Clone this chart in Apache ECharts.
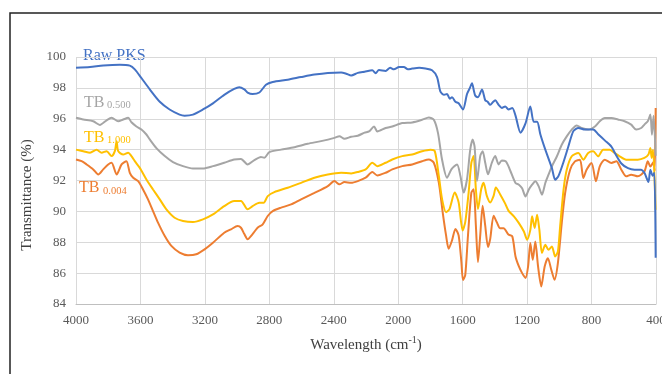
<!DOCTYPE html>
<html>
<head>
<meta charset="utf-8">
<script src="https://cdn.jsdelivr.net/npm/echarts@6/dist/echarts.min.js"></script>
<style>
  html, body { margin: 0; padding: 0; background: #fff; }
  #chart { width: 662px; height: 374px; }
</style>
</head>
<body>
<div id="chart"></div>
<script>
// wavenumber (cm-1) / transmittance (%)
const rawPKS = [[4000,99.3],[3913,99.35],[3831,99.45],[3728,99.5],[3666,99.44],[3635,99.2],[3594,98.64],[3542,97.9],[3480,97.1],[3419,96.6],[3357,96.27],[3326,96.2],[3274,96.27],[3212,96.6],[3150,97.0],[3080,97.55],[3018,97.93],[2987,98.04],[2955,97.9],[2935,97.7],[2904,97.6],[2862,97.7],[2821,98.2],[2779,98.38],[2686,98.53],[2603,98.7],[2520,98.86],[2437,98.97],[2354,99.0],[2323,98.92],[2292,98.8],[2251,98.97],[2209,99.05],[2161,99.14],[2140,98.95],[2120,99.15],[2078,99.1],[2050,99.3],[2027,99.2],[1995,99.35],[1965,99.36],[1940,99.2],[1913,99.25],[1870,99.3],[1831,99.25],[1790,99.14],[1759,98.7],[1738,97.75],[1715,97.55],[1697,97.6],[1680,97.3],[1666,97.4],[1645,97.1],[1625,97.0],[1598,96.6],[1573,97.6],[1555,98.0],[1542,98.3],[1530,97.8],[1522,97.5],[1505,97.4],[1480,97.9],[1460,97.2],[1445,97.1],[1429,96.9],[1410,97.1],[1398,97.2],[1377,96.9],[1357,96.7],[1336,96.8],[1316,96.6],[1292,96.7],[1272,96.2],[1241,95.1],[1210,95.7],[1180,96.8],[1159,95.8],[1138,95.8],[1118,95.0],[1087,94.0],[1046,92.8],[1026,92.05],[1005,92.3],[974,93.2],[944,94.2],[913,95.2],[882,95.4],[841,95.3],[790,95.3],[759,95.0],[718,94.6],[677,94.2],[656,93.8],[615,93.1],[574,92.8],[533,92.7],[492,92.7],[472,92.5],[447,91.9],[435,92.7],[421,92.3],[410,92.5],[402,87.0]];

const tb0500 = [[4000,96.06],[3955,95.95],[3893,95.84],[3852,95.6],[3810,95.9],[3779,96.06],[3738,95.84],[3707,95.95],[3676,96.06],[3656,95.77],[3625,95.5],[3594,95.3],[3563,94.98],[3542,94.66],[3501,94.1],[3449,93.58],[3398,93.19],[3336,92.93],[3274,92.78],[3212,92.78],[3150,92.93],[3080,93.15],[3018,93.36],[2976,93.4],[2935,93.04],[2893,93.32],[2852,93.53],[2831,93.47],[2800,93.84],[2727,94.0],[2645,94.16],[2562,94.38],[2479,94.55],[2396,94.76],[2365,94.87],[2334,94.7],[2292,94.83],[2251,94.9],[2209,95.1],[2181,95.18],[2150,95.5],[2130,95.18],[2078,95.4],[2037,95.5],[1975,95.72],[1913,95.76],[1852,95.93],[1810,96.08],[1779,95.93],[1753,95.07],[1728,93.36],[1697,92.18],[1670,92.72],[1635,93.04],[1614,92.29],[1594,91.22],[1573,92.08],[1553,94.0],[1538,94.65],[1526,94.2],[1511,91.97],[1491,93.58],[1476,93.9],[1460,93.15],[1443,92.4],[1419,93.15],[1398,93.58],[1377,93.04],[1357,93.3],[1333,93.24],[1316,92.93],[1303,92.6],[1272,91.84],[1251,91.73],[1231,91.5],[1210,90.97],[1190,91.4],[1169,91.73],[1149,91.95],[1128,91.62],[1108,91.08],[1087,91.84],[1067,92.38],[1046,92.92],[1015,93.57],[985,94.32],[954,94.86],[923,95.3],[892,95.56],[862,95.4],[821,95.3],[779,95.5],[749,95.84],[718,96.05],[677,96.05],[636,95.95],[595,95.84],[554,95.62],[523,95.3],[492,95.4],[472,95.62],[451,95.84],[435,96.27],[425,94.97],[415,96.2],[402,93.6]];

const tb1000 = [[4000,94.0],[3955,93.9],[3913,93.8],[3872,94.0],[3841,93.8],[3810,93.9],[3779,93.58],[3759,93.9],[3748,94.55],[3738,93.9],[3707,93.68],[3676,93.8],[3656,93.58],[3635,93.25],[3604,92.82],[3563,92.07],[3522,91.42],[3480,90.78],[3439,90.13],[3388,89.59],[3336,89.38],[3274,89.31],[3212,89.48],[3150,89.8],[3080,90.34],[3018,90.67],[2976,90.67],[2935,90.13],[2904,90.34],[2862,90.56],[2835,90.56],[2810,90.99],[2769,91.25],[2686,91.53],[2603,91.85],[2520,92.18],[2437,92.39],[2354,92.5],[2292,92.46],[2251,92.55],[2202,92.72],[2161,93.15],[2130,92.93],[2078,93.15],[2037,93.36],[1975,93.58],[1913,93.68],[1852,93.9],[1800,94.0],[1773,93.9],[1748,92.29],[1728,90.8],[1703,89.94],[1682,90.15],[1649,91.22],[1625,90.58],[1600,88.76],[1584,89.3],[1563,91.22],[1546,93.15],[1532,93.58],[1518,91.43],[1505,90.15],[1485,91.43],[1470,91.86],[1450,91.0],[1429,90.58],[1408,91.0],[1394,91.54],[1367,91.1],[1336,90.5],[1316,90.05],[1282,89.68],[1251,89.24],[1220,88.7],[1200,88.16],[1180,88.8],[1169,89.68],[1153,88.92],[1138,89.78],[1124,88.81],[1108,87.3],[1087,87.84],[1067,87.51],[1046,87.73],[1026,87.08],[1009,87.4],[995,89.03],[974,91.4],[954,92.7],[923,93.57],[882,93.78],[851,93.35],[821,93.78],[790,93.89],[759,93.57],[728,94.0],[687,94.0],[656,93.78],[626,93.57],[585,93.35],[554,93.35],[513,93.35],[472,93.46],[447,93.68],[435,94.1],[427,93.46],[418,94.0],[403,90.1]];

const tb0004 = [[4000,93.36],[3965,93.25],[3934,93.04],[3893,92.72],[3862,92.39],[3831,92.72],[3800,93.04],[3779,93.15],[3748,92.39],[3717,93.04],[3687,93.25],[3666,92.5],[3645,92.18],[3614,91.96],[3584,91.42],[3553,90.78],[3522,90.02],[3491,89.27],[3449,88.4],[3408,87.76],[3357,87.33],[3305,87.16],[3254,87.22],[3202,87.54],[3150,87.97],[3080,88.62],[3038,88.84],[2997,89.05],[2976,88.94],[2955,88.53],[2935,88.2],[2904,88.53],[2873,88.94],[2841,89.16],[2810,89.7],[2779,90.02],[2727,90.24],[2665,90.45],[2603,90.78],[2520,91.2],[2437,91.64],[2396,91.96],[2365,91.75],[2334,91.9],[2292,91.85],[2251,91.96],[2202,92.18],[2161,92.55],[2130,92.33],[2078,92.5],[2037,92.72],[1975,92.93],[1913,93.04],[1852,93.25],[1810,93.36],[1779,93.15],[1748,91.86],[1724,89.94],[1703,88.44],[1687,87.58],[1666,88.12],[1645,88.86],[1625,88.44],[1608,86.72],[1598,85.55],[1584,85.87],[1567,88.44],[1546,91.22],[1532,91.43],[1518,89.08],[1505,86.72],[1491,88.44],[1476,90.36],[1460,89.08],[1443,87.69],[1429,88.22],[1408,89.72],[1388,89.29],[1367,88.9],[1346,88.9],[1316,88.5],[1292,88.38],[1272,87.08],[1251,86.43],[1231,86.0],[1210,85.68],[1194,86.43],[1180,87.95],[1165,86.86],[1149,88.05],[1132,86.43],[1112,85.14],[1091,86.43],[1071,86.97],[1050,86.22],[1030,85.57],[1009,86.65],[985,89.24],[964,91.19],[933,92.7],[903,93.24],[872,93.35],[851,92.16],[831,92.7],[800,93.14],[773,91.95],[749,92.92],[718,93.35],[677,93.14],[646,93.24],[615,92.7],[585,92.27],[554,92.38],[513,92.27],[472,92.59],[451,93.24],[435,92.9],[415,93.2],[408,92.6],[402,96.7]];

const seriesNames = ["Raw PKS", "TB 0.500", "TB 1.000", "TB 0.004"];
const colors = ["#4472C4", "#A5A5A5", "#FFC000", "#ED7D31"];

const serif = "Liberation Serif, Times New Roman, serif";

function line(name, data, color, z) {
  return {
    name: name,
    type: "line",
    data: data,
    z: z,
    showSymbol: false,
    smooth: 0.25,
    lineStyle: { color: color, width: 2 },
    emphasis: { disabled: true }
  };
}

function label(x, y, text, size, color) {
  return {
    type: "text",
    x: x,
    y: y,
    style: {
      text: text,
      fill: color,
      font: size + "px " + serif,
      textVerticalAlign: "middle"
    }
  };
}

let option = {
  animation: false,
  grid: { left: 76, right: 6, top: 57, bottom: 70, outerBoundsMode: "none", containLabel: false },
  xAxis: {
    type: "value",
    inverse: true,
    min: 400,
    max: 4000,
    interval: 400,
    name: "{a|Wavelength (cm}{s|-1}{a|)}",
    nameLocation: "middle",
    nameGap: 31,
    nameTextStyle: {
      rich: {
        a: { fontFamily: serif, fontSize: 15, color: "#404040", verticalAlign: "bottom", lineHeight: 18 },
        s: { fontFamily: serif, fontSize: 10, color: "#404040", verticalAlign: "top", lineHeight: 18 }
      }
    },
    axisLine: { show: true, lineStyle: { color: "#BFBFBF", width: 1 } },
    axisTick: { show: false },
    axisLabel: { fontFamily: serif, fontSize: 13, color: "#595959", margin: 10, formatter: v => String(v) },
    splitLine: { show: true, lineStyle: { color: "#D9D9D9", width: 1 } }
  },
  yAxis: {
    type: "value",
    min: 84,
    max: 100,
    interval: 2,
    axisLine: { show: false },
    axisTick: { show: false },
    axisLabel: { fontFamily: serif, fontSize: 13, color: "#595959", margin: 10 },
    splitLine: { show: true, lineStyle: { color: "#D9D9D9", width: 1 } }
  },
  graphic: [
    {
      type: "rect",
      shape: { x: 10, y: 13, width: 700, height: 420 },
      style: { fill: null, stroke: "#222", lineWidth: 1.5 },
      silent: true
    },
    {
      type: "text",
      x: 27,
      y: 195,
      rotation: Math.PI / 2,
      style: {
        text: "Transmittance (%)",
        fill: "#404040",
        font: "15px " + serif,
        textAlign: "center",
        textVerticalAlign: "middle"
      }
    },
    label(83, 56, "Raw PKS", 16, colors[0]),
    label(84, 102.5, "TB", 16, colors[1]),
    label(107, 105.5, "0.500", 10.5, colors[1]),
    label(84, 137.5, "TB", 16, colors[2]),
    label(107, 140.5, "1.000", 10.5, colors[2]),
    label(79, 187.5, "TB", 16, colors[3]),
    label(103, 191.5, "0.004", 10.5, colors[3])
  ],
  series: [
    line(seriesNames[0], rawPKS, colors[0], 4),
    line(seriesNames[1], tb0500, colors[1], 3),
    line(seriesNames[2], tb1000, colors[2], 2),
    line(seriesNames[3], tb0004, colors[3], 1)
  ]
};

let myChart = echarts.init(document.getElementById("chart"));
myChart.setOption(option);
</script>
</body>
</html>
